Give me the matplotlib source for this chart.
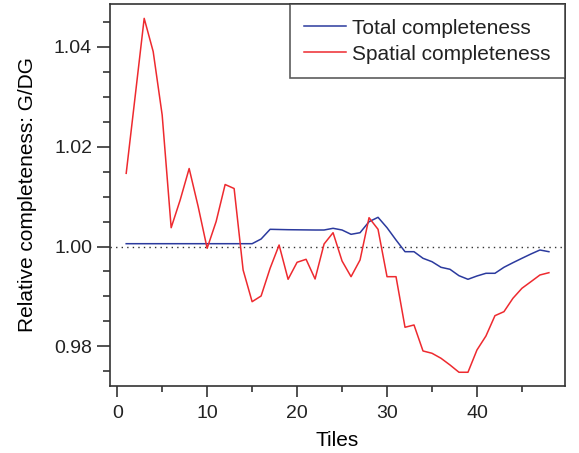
import numpy as np
from matplotlib import pyplot as plt
from matplotlib.ticker import MultipleLocator

tiles = list(range(1, 49))
total = [1.00056] * 15 + [1.0015, 1.00344, 1.0034, 1.00336, 1.00334, 1.00332, 1.0033, 1.0033,
         1.00364, 1.0033, 1.00244, 1.00276, 1.00496, 1.00584, 1.00376, 1.0013, 0.99896, 0.99896,
         0.99764, 0.99696, 0.99584, 0.99544, 0.99416, 0.99344, 0.9941, 0.99464, 0.99464,
         0.99584, 0.99676, 0.99764, 0.9985, 0.9993, 0.99896]
spatial = [1.01464, 1.0301, 1.04564, 1.0390, 1.0263, 1.00376, 1.0093, 1.0156, 1.0080, 0.99964,
           1.0050, 1.0124, 1.0116, 0.99530, 0.98896, 0.99010, 0.99564, 1.0003, 0.99344, 0.99684,
           0.99744, 0.9935, 1.0005, 1.00276, 0.9971, 0.99396, 0.9973, 1.00576, 1.00344, 0.99396,
           0.99396, 0.98384, 0.9843, 0.9791, 0.97864, 0.97764, 0.9763, 0.97484, 0.97484, 0.9793,
           0.9821, 0.98616, 0.98696, 0.98964, 0.99164, 0.99296, 0.9943, 0.99476]

plt.rcParams['font.family'] = ['Liberation Sans', 'DejaVu Sans']
plt.rcParams['text.color'] = '#222222'

fig = plt.figure(figsize=(5.79, 4.53), dpi=100)
ax = fig.add_axes([0.190, 0.148, 0.786, 0.843])

ax.axhline(1.0, color='#333333', lw=1, ls=(0, (1, 3)))
ax.plot(tiles, total, color='#2b3a9e', lw=1.1, label='Total completeness')
ax.plot(tiles, spatial, color='#ee2a2f', lw=1.1, label='Spatial completeness')

ax.set_xlim(-0.8, 49.8)
ax.set_ylim(0.9721, 1.0485)
ax.xaxis.set_major_locator(MultipleLocator(10))
ax.xaxis.set_minor_locator(MultipleLocator(5))
ax.yaxis.set_major_locator(MultipleLocator(0.02))
ax.yaxis.set_minor_locator(MultipleLocator(0.005))
ax.yaxis.set_major_formatter(plt.FuncFormatter(lambda v, p: f'{v:.2f}'))

for s in ax.spines.values():
    s.set_color('#333333')
    s.set_linewidth(1.2)
ax.tick_params(which='both', direction='out', width=1.2, color='#333333',
               labelsize=14, labelcolor='#222222')
ax.tick_params(axis='x', which='major', length=8, pad=6)
ax.tick_params(axis='x', which='minor', length=4.5)
ax.tick_params(axis='y', which='major', length=9.4, pad=3.5)
ax.tick_params(axis='y', which='minor', length=5)

ax.set_xlabel('Tiles', fontsize=15, labelpad=6)
ax.set_ylabel('Relative completeness: G/DG', fontsize=15, labelpad=12)

leg = ax.legend(loc='upper right', fontsize=15, frameon=True, fancybox=False,
                handlelength=2.0, handletextpad=0.3, borderaxespad=0, borderpad=0.7,
                labelspacing=0.33)
leg.get_frame().set_edgecolor('#333333')
leg.get_frame().set_linewidth(1.2)

fig.savefig('out.png', dpi=100)
